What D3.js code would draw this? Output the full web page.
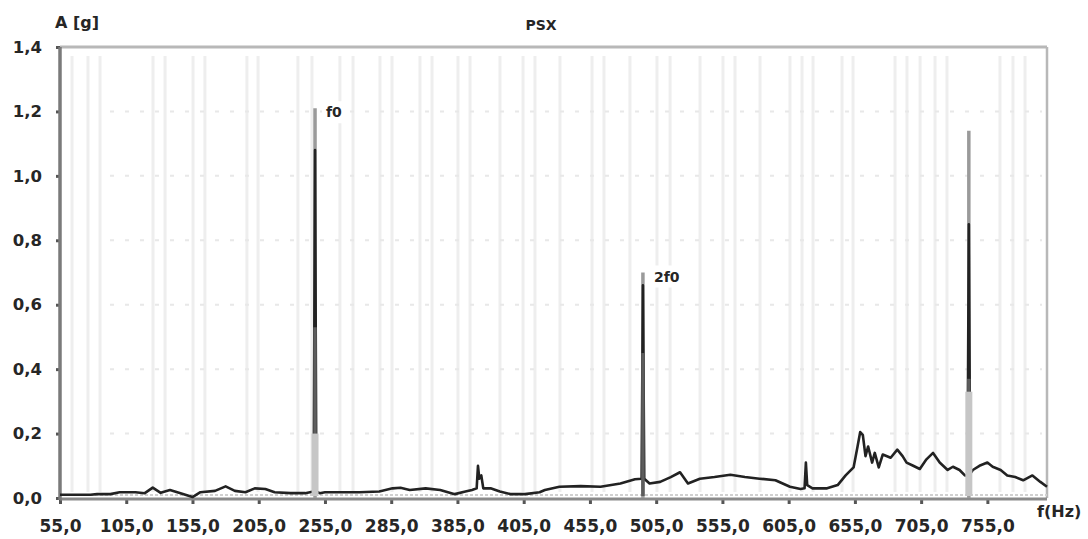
<!DOCTYPE html>
<html>
<head>
<meta charset="utf-8">
<script src="https://cdn.jsdelivr.net/npm/d3@7"></script>
<style>
  html, body { margin: 0; padding: 0; background: #fff; }
  svg { display: block; }
  text { font-family: "DejaVu Sans", "Liberation Sans", Arial, sans-serif; font-weight: bold; fill: #262626; }
</style>
</head>
<body>
<svg id="chart" width="1088" height="539"></svg>
<script>
// ---- data ----
const tickHz = [55, 105, 155, 205, 255, 305, 355, 405, 455, 505, 555, 605, 655, 705, 755];
const tickLabels = ["55,0", "105,0", "155,0", "205,0", "255,0", "285,0", "385,0", "405,0", "455,0", "505,0", "555,0", "605,0", "655,0", "705,0", "755,0"];
const yTicks = [0, 0.2, 0.4, 0.6, 0.8, 1.0, 1.2, 1.4];
const yLabels = ["0,0", "0,2", "0,4", "0,6", "0,8", "1,0", "1,2", "1,4"];

// main spectrum (black trace)
const freqHz = [55, 66, 78, 83, 93, 100, 112, 119, 125, 131, 138, 146, 155, 161, 172, 180, 187, 195, 202, 210, 217, 229, 240,
  246.5, 247.5, 248.5, 251, 255, 266, 281, 296, 306, 312, 319, 331, 342, 353, 361, 366, 369.5, 370.5, 371.5, 373, 374.5,
  380, 387, 395, 406, 417, 421, 432, 448, 463, 478, 489, 494, 495, 496, 500, 508, 516, 523, 529, 538, 549, 561, 572, 583,
  595, 606, 614, 617, 618, 619, 623, 634, 642, 648, 654, 657, 659, 661, 663, 665, 668, 670, 673, 676, 682, 687, 691, 694,
  699, 704, 709, 714, 719, 725, 729, 734, 738, 740, 741, 742, 744, 749, 755, 759, 765, 770, 776, 782, 789, 795, 800];
const ampG = [0.010, 0.010, 0.010, 0.012, 0.012, 0.018, 0.018, 0.015, 0.032, 0.016, 0.025, 0.015, 0.003, 0.018, 0.022, 0.036, 0.022, 0.018, 0.030, 0.028, 0.018, 0.015, 0.015,
  0.020, 1.08, 0.020, 0.015, 0.018, 0.018, 0.018, 0.020, 0.030, 0.032, 0.025, 0.030, 0.025, 0.012, 0.020, 0.025, 0.030, 0.100, 0.060, 0.070, 0.030,
  0.030, 0.020, 0.012, 0.012, 0.018, 0.025, 0.035, 0.037, 0.035, 0.045, 0.058, 0.060, 0.66, 0.060, 0.045, 0.050, 0.065, 0.080, 0.045, 0.060, 0.065, 0.072, 0.065, 0.060,
  0.055, 0.035, 0.028, 0.030, 0.110, 0.040, 0.030, 0.030, 0.040, 0.070, 0.095, 0.160, 0.205, 0.195, 0.130, 0.160, 0.110, 0.140, 0.095, 0.135, 0.125, 0.150, 0.130, 0.110,
  0.100, 0.090, 0.120, 0.140, 0.110, 0.087, 0.097, 0.087, 0.070, 0.070, 0.85, 0.075, 0.087, 0.100, 0.110, 0.097, 0.087, 0.070, 0.065, 0.055, 0.070, 0.050, 0.035];

// harmonic peaks drawn by the overlaid traces
const peakHz = [247.5, 495, 741];
const peakTop = [1.21, 0.70, 1.14];   // grey trace
const peakMid = [0.53, 0.45, 0.37];   // dark grey trace
const peakLow = [0.20, 0.0, 0.33];    // light grey trace
const peakLabels = ["f0", "2f0", ""];

// faint vertical grid lines (Hz)
const gridHz = [64.1, 76.1, 85.2, 125.2, 134.3, 155.4, 164.4, 196.1, 204.5, 234.6, 245.2, 266.3, 276.2,
  296.5, 305.6, 326.7, 335.8, 355.4, 364.5, 387.1, 404.5, 413.5, 432.4, 456.6, 465.6, 485.2, 505.6, 515.5,
  538.1, 555.4, 564.5, 583.4, 606, 615.1, 623.4, 645.3, 653.6, 685.3, 694.3, 704.2, 715.5, 724.5, 764.5, 774.3, 783.4];

// ---- drawing ----
const svg = d3.select("#chart");
const pL = 60, pR = 1047, pT = 47, pB = 498;
const x = d3.scaleLinear().domain([55, 800]).range([pL, pR]);
const y = d3.scaleLinear().domain([0, 1.4]).range([pB, pT]);

// vertical grid
svg.append("g").selectAll("line").data(gridHz).join("line")
  .attr("x1", d => x(d)).attr("x2", d => x(d))
  .attr("y1", pT + 9).attr("y2", pB - 6)
  .attr("stroke", "#eeeeee").attr("stroke-width", 3);

// horizontal dashed grid
svg.append("g").selectAll("line").data(yTicks.filter(v => v > 0 && v < 1.4)).join("line")
  .attr("x1", pL + 50).attr("x2", pR - 5)
  .attr("y1", d => y(d)).attr("y2", d => y(d))
  .attr("stroke", "#e8e8e8").attr("stroke-width", 2)
  .attr("stroke-dasharray", "4,11");

// frame: top and right borders
svg.append("line").attr("x1", pL).attr("x2", pR).attr("y1", pT).attr("y2", pT)
  .attr("stroke", "#b8b8b8").attr("stroke-width", 3);
svg.append("line").attr("x1", pR).attr("x2", pR).attr("y1", pT).attr("y2", pB)
  .attr("stroke", "#b8b8b8").attr("stroke-width", 2.5);

// y axis
const yAxis = svg.append("g").attr("transform", `translate(${pL},0)`)
  .call(d3.axisLeft(y).tickValues(yTicks).tickFormat((d, i) => yLabels[i]).tickSize(4).tickPadding(14));
yAxis.select(".domain").remove();
yAxis.selectAll(".tick line").attr("stroke", "#555").attr("stroke-width", 3);
yAxis.selectAll(".tick text").style("font-size", "16.5px").attr("fill", "#262626");

// x axis
const xAxis = svg.append("g").attr("transform", `translate(0,${pB + 1})`)
  .call(d3.axisBottom(x).tickValues(tickHz).tickFormat((d, i) => tickLabels[i]).tickSize(5).tickPadding(16));
xAxis.select(".domain").remove();
xAxis.selectAll(".tick line").attr("stroke", "#555").attr("stroke-width", 3);
xAxis.selectAll(".tick text").style("font-size", "17px").attr("fill", "#262626");

// axis lines
svg.append("line").attr("x1", pL).attr("x2", pR).attr("y1", pB - 3).attr("y2", pB - 3)
  .attr("stroke", "#d0d0d0").attr("stroke-width", 2).attr("stroke-dasharray", "3,2");
svg.append("line").attr("x1", pL).attr("x2", pR).attr("y1", pB + 1).attr("y2", pB + 1)
  .attr("stroke", "#8a8a8a").attr("stroke-width", 3);
svg.append("line").attr("x1", pL).attr("x2", pL).attr("y1", pT).attr("y2", pB + 2)
  .attr("stroke", "#7a7a7a").attr("stroke-width", 3.5);

// grey trace peaks
svg.append("g").selectAll("line").data(peakHz).join("line")
  .attr("x1", d => x(d)).attr("x2", d => x(d))
  .attr("y1", y(0)).attr("y2", (d, i) => y(peakTop[i]))
  .attr("stroke", "#9a9a9a").attr("stroke-width", 3.5);

// main black spectrum
const pts = freqHz.map((f, i) => [f, ampG[i]]);
svg.append("path").datum(pts)
  .attr("fill", "none").attr("stroke", "#222").attr("stroke-width", 2.6)
  .attr("stroke-linejoin", "round")
  .attr("d", d3.line().x(d => x(d[0])).y(d => y(d[1])));

// dark grey trace peaks
svg.append("g").selectAll("line").data(peakHz).join("line")
  .attr("x1", d => x(d)).attr("x2", d => x(d))
  .attr("y1", y(0) - 2).attr("y2", (d, i) => y(peakMid[i]))
  .attr("stroke", "#5c5c5c").attr("stroke-width", 3.5);

// light grey trace peaks
svg.append("g").selectAll("line").data(peakHz.filter((d, i) => peakLow[i] > 0)).join("line")
  .attr("x1", d => x(d)).attr("x2", d => x(d))
  .attr("y1", y(0) - 2).attr("y2", d => y(peakLow[peakHz.indexOf(d)]))
  .attr("stroke", "#c6c6c6").attr("stroke-width", 7);

// peak labels (white box behind)
const labelG = svg.append("g");
peakHz.forEach((f, i) => {
  if (!peakLabels[i]) return;
  const g = labelG.append("g");
  const bg = g.append("rect");
  const t = g.append("text").attr("x", x(f) + 11).attr("y", y(peakTop[i]) + 9)
    .style("font-size", "14px").text(peakLabels[i]);
  const bb = t.node().getBBox();
  bg.attr("x", bb.x - 4).attr("y", bb.y - 3).attr("width", bb.width + 8).attr("height", bb.height + 6)
    .attr("rx", 4).attr("fill", "#fff");
});

// titles
svg.append("text").attr("x", 55).attr("y", 28).style("font-size", "16px").text("A [g]");
svg.append("text").attr("x", 541).attr("y", 30).attr("text-anchor", "middle").style("font-size", "14px").text("PSX");
svg.append("text").attr("x", 1037).attr("y", 517).style("font-size", "16px").text("f(Hz)");
</script>
</body>
</html>
